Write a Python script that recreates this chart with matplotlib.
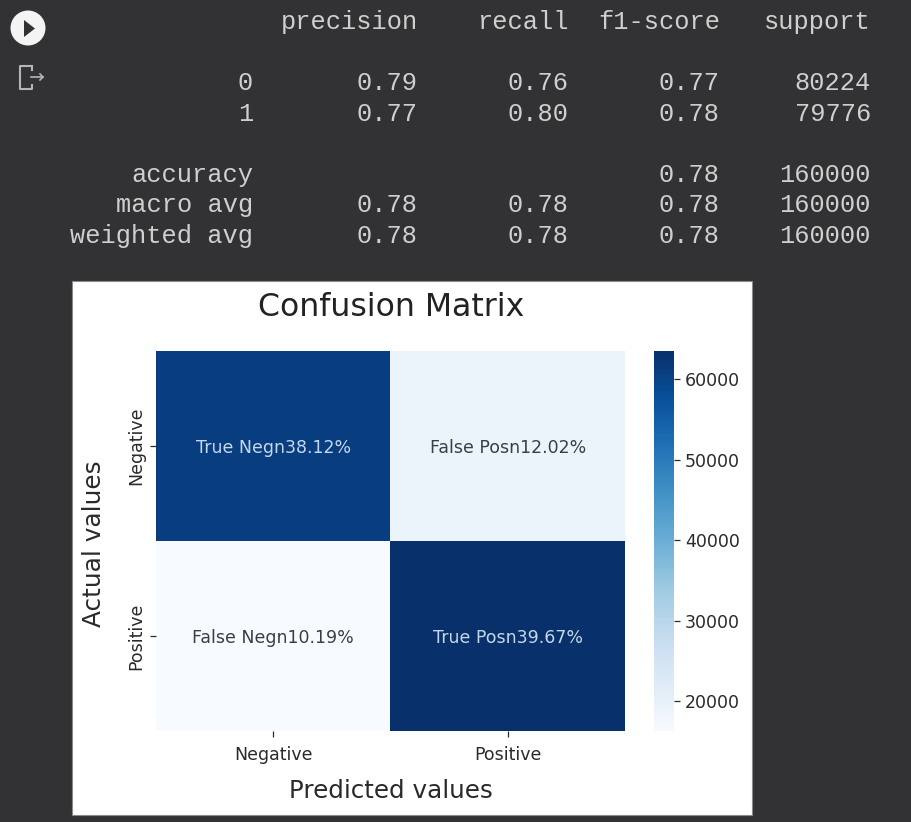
import numpy as np
import seaborn as sns
from matplotlib import pyplot as plt
from matplotlib.patches import Rectangle, Ellipse, Polygon

W, H = 912, 822

# classification report
row_names = ['0', '1', 'accuracy', 'macro avg', 'weighted avg']
col_names = ['precision', 'recall', 'f1-score', 'support']
precision = ['0.79', '0.77', '', '0.78', '0.78']
recall = ['0.76', '0.80', '', '0.78', '0.78']
f1_score = ['0.77', '0.78', '0.78', '0.78', '0.78']
support = ['80224', '79776', '160000', '160000', '160000']

# confusion matrix
cm = np.array([[60992, 19232], [16304, 63472]])
cell_names = ['True Neg', 'False Pos', 'False Neg', 'True Pos']
cell_percents = ['38.12%', '12.02%', '10.19%', '39.67%']
categories = ['Negative', 'Positive']
cbar_ticks = [20000, 30000, 40000, 50000, 60000]


def px_x(x):
    return x / W


def px_y(y):
    return 1 - y / H


def px_axes(fig, left, top, right, bottom):
    return fig.add_axes([px_x(left), px_y(bottom), (right - left) / W, (bottom - top) / H])


BG = '#323234'
TXT = '#cfcfcf'
fig = plt.figure(figsize=(W / 100, H / 100), dpi=100, facecolor=BG)

# the notebook output: report as monospace text
mono = dict(family='Liberation Mono', fontsize=18.3, color=TXT, ha='right', va='center',
            transform=fig.transFigure)
col_right = [418, 569, 720, 871]
row_y = [83, 114, 175, 205, 236]
for x, name in zip(col_right, col_names):
    fig.text(px_x(x), px_y(22), name, **mono)
for y, name in zip(row_y, row_names):
    fig.text(px_x(253), px_y(y), name, **mono)
for x, col in zip(col_right, [precision, recall, f1_score, support]):
    for y, val in zip(row_y, col):
        fig.text(px_x(x), px_y(y), val, **mono)

# run button and output icon
bg_ax = fig.add_axes([0, 0, 1, 1])
bg_ax.set_xlim(0, W)
bg_ax.set_ylim(H, 0)
bg_ax.axis('off')
bg_ax.add_patch(Ellipse((28, 28), 35, 35, fc='#f4f4f4', ec='none'))
bg_ax.add_patch(Polygon([[24, 20], [24, 37], [35, 28.5]], fc='#323234', ec='none'))
bg_ax.plot([32, 20, 20, 32, 32], [66, 66, 89, 89, 85], color='#b5b5b5', lw=1.5)
bg_ax.plot([32, 32], [70, 66], color='#b5b5b5', lw=1.5)
bg_ax.plot([31, 43], [77, 77], color='#b5b5b5', lw=1.2)
bg_ax.plot([40, 43, 40], [74, 77, 80], color='#b5b5b5', lw=1.2)

# white figure panel
bg_ax.add_patch(Rectangle((72, 281), 680, 534, fc='white', ec='#8a8a8a', lw=0.8))

# heatmap
ax = px_axes(fig, 156, 351, 625, 731)
cax = px_axes(fig, 654, 351, 674, 731)
labels = np.array(['%sn%s' % (a, b) for a, b in zip(cell_names, cell_percents)]).reshape(2, 2)
sns.heatmap(cm, annot=labels, fmt='', cmap='Blues', ax=ax, cbar_ax=cax,
            xticklabels=categories, yticklabels=categories,
            annot_kws={'fontsize': 12.5})
for t, c in zip(ax.texts, ['#c4d8ec', '#3a3f47', '#3a3f47', '#c4d8ec']):
    t.set_color(c)
    x0, y0 = t.get_position()
    t.set_position((x0, y0 + 0.012))  # sits slightly under the cell centre

ax.tick_params(axis='both', labelsize=12.5, colors='#2a2a2a', length=4.5, width=0.9)
ax.tick_params(axis='y', pad=3)
ax.tick_params(axis='x', pad=6)
cax.set_yticks(cbar_ticks)
cax.tick_params(labelsize=12.5, colors='#2a2a2a', length=4.5, width=0.9, pad=3.5)
for s in cax.spines.values():
    s.set_visible(False)

fig.text(px_x(391), px_y(307), 'Confusion Matrix', fontsize=22.7, color='#222222', ha='center', va='center')
fig.text(px_x(391), px_y(791), 'Predicted values', fontsize=17.7, color='#2a2a2a', ha='center', va='center')
fig.text(px_x(94), px_y(544), 'Actual values', fontsize=17.8, color='#2a2a2a', rotation=90, ha='center', va='center')

fig.savefig('out.png', dpi=100, facecolor=BG)
